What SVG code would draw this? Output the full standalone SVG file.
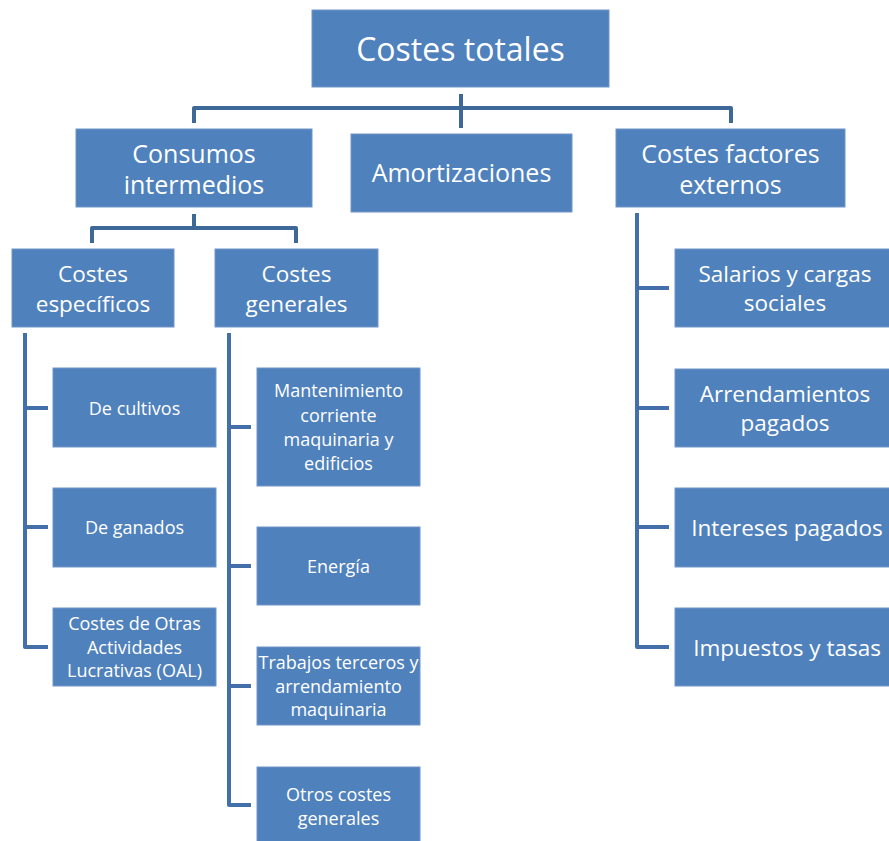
<svg xmlns="http://www.w3.org/2000/svg" width="889" height="841" viewBox="0 0 889 841">
<style>
.box{fill:#4F81BD;stroke:#7396C8;stroke-width:1}
.t{fill:#fff;font-family:"Open Sans","Noto Sans",sans-serif;text-anchor:middle;dominant-baseline:central}
.t1{font-size:32px}
.t2{font-size:25px}
.t3{font-size:22.5px}
.t4{font-size:18px}
.c{fill:none;stroke:#4370AA;stroke-width:4;stroke-linejoin:round;stroke-linecap:butt}
.ct{stroke:#3E6898}
</style>
<rect width="889" height="841" fill="#fff"/>
<g id="connectors">
<path class="c ct" d="M194,123 V108 H731 V123 M461,94 V128"/>
<path class="c ct" d="M194,214 V228 M92,243 V228 H296 V243"/>
<path class="c" d="M25,333 V647 H48 M25,408 H48 M25,527 H48"/>
<path class="c" d="M229,333 V805 H251 M229,427 H251 M229,566 H251 M229,686 H251"/>
<path class="c" d="M637,213 V647 H669 M637,288 H669 M637,408 H669 M637,527 H669"/>
</g>
<g id="costes-totales"><rect class="box" x="312" y="10" width="297" height="77"/><text class="t t1" x="460.5" y="48">Costes totales</text></g>
<g id="consumos"><rect class="box" x="76" y="129" width="236" height="78"/><text class="t t2" x="194" y="153">Consumos</text><text class="t t2" x="194" y="184">intermedios</text></g>
<g id="amortizaciones"><rect class="box" x="351" y="134" width="221" height="78"/><text class="t t2" x="461.5" y="172">Amortizaciones</text></g>
<g id="factores"><rect class="box" x="616" y="129" width="229" height="78"/><text class="t t2" x="730.5" y="153">Costes factores</text><text class="t t2" x="730.5" y="184">externos</text></g>
<g id="especificos"><rect class="box" x="12" y="249" width="162" height="78"/><text class="t t3" x="93" y="273">Costes</text><text class="t t3" x="93" y="303">específicos</text></g>
<g id="generales"><rect class="box" x="215" y="249" width="163" height="78"/><text class="t t3" x="296.5" y="273">Costes</text><text class="t t3" x="296.5" y="303">generales</text></g>
<g id="cultivos"><rect class="box" x="53" y="368" width="163" height="79"/><text class="t t4" x="134.5" y="408">De cultivos</text></g>
<g id="ganados"><rect class="box" x="53" y="488" width="163" height="79"/><text class="t t4" x="134.5" y="527">De ganados</text></g>
<g id="oal"><rect class="box" x="53" y="608" width="163" height="78"/><text class="t t4" x="134.5" y="623">Costes de Otras</text><text class="t t4" x="134.5" y="647">Actividades</text><text class="t t4" x="134.5" y="670">Lucrativas (OAL)</text></g>
<g id="mantenimiento"><rect class="box" x="257" y="368" width="163" height="118"/><text class="t t4" x="338.5" y="390">Mantenimiento</text><text class="t t4" x="338.5" y="415">corriente</text><text class="t t4" x="338.5" y="439">maquinaria y</text><text class="t t4" x="338.5" y="463">edificios</text></g>
<g id="energia"><rect class="box" x="257" y="527" width="163" height="78"/><text class="t t4" x="338.5" y="566">Energía</text></g>
<g id="trabajos"><rect class="box" x="257" y="647" width="163" height="78"/><text class="t t4" x="338.5" y="662">Trabajos terceros y</text><text class="t t4" x="338.5" y="686">arrendamiento</text><text class="t t4" x="338.5" y="709">maquinaria</text></g>
<g id="otros"><rect class="box" x="257" y="767" width="163" height="78"/><text class="t t4" x="338.5" y="794">Otros costes</text><text class="t t4" x="338.5" y="818">generales</text></g>
<g id="salarios"><rect class="box" x="675" y="249" width="222" height="78"/><text class="t t3" x="785" y="273">Salarios y cargas</text><text class="t t3" x="785" y="302">sociales</text></g>
<g id="arrendamientos"><rect class="box" x="675" y="369" width="222" height="78"/><text class="t t3" x="785" y="393">Arrendamientos</text><text class="t t3" x="785" y="422">pagados</text></g>
<g id="intereses"><rect class="box" x="675" y="488" width="222" height="79"/><text class="t t3" x="787" y="527">Intereses pagados</text></g>
<g id="impuestos"><rect class="box" x="675" y="608" width="222" height="78"/><text class="t t3" x="787" y="647">Impuestos y tasas</text></g>
</svg>
